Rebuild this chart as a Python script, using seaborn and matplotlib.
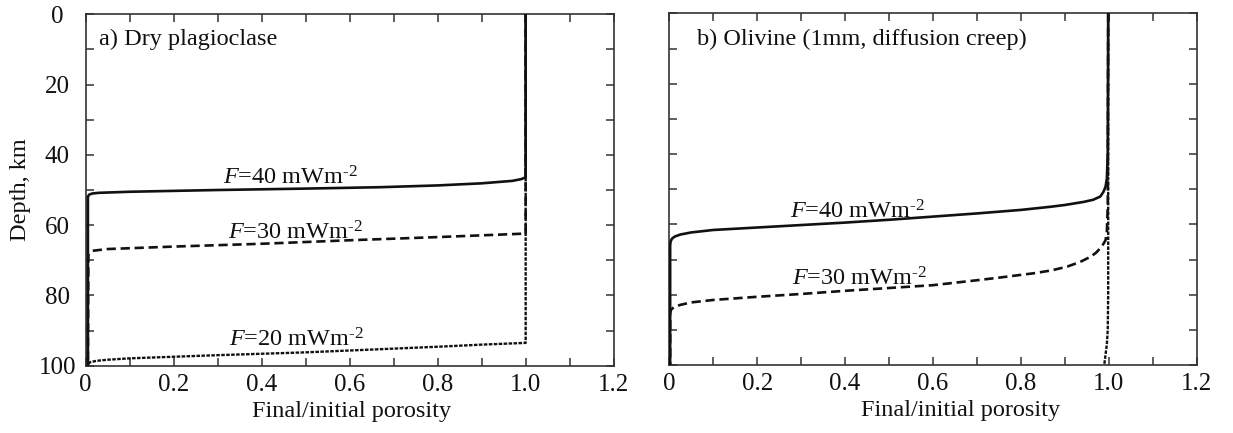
import matplotlib
matplotlib.use("Agg")
import matplotlib.pyplot as plt
import seaborn as sns
import pandas as pd
from matplotlib.ticker import MultipleLocator

# ---------------- data ----------------
# Panel a) Dry plagioclase
a40_x = [1.0, 1.0, 0.99, 0.97, 0.9, 0.8, 0.67, 0.5, 0.3, 0.1, 0.03, 0.015, 0.008, 0.005, 0.005]
a40_d = [0, 46.4, 46.9, 47.4, 48.1, 48.7, 49.2, 49.6, 50.0, 50.5, 50.8, 51.0, 51.3, 51.9, 100]
a30_x = [1.0, 1.0, 0.8, 0.6, 0.4, 0.2, 0.05, 0.015, 0.006, 0.005]
a30_d = [0, 62.4, 63.4, 64.3, 65.3, 66.1, 66.8, 67.3, 68.3, 100]
a20_x = [1.0, 1.0, 0.9, 0.8, 0.67, 0.5, 0.3, 0.1, 0.05, 0.025, 0.01, 0.004]
a20_d = [0, 93.5, 94.0, 94.6, 95.3, 96.2, 97.0, 97.9, 98.3, 98.6, 99.0, 99.8]

# Panel b) Olivine (1mm, diffusion creep)
b40_x = [0.999, 0.998, 0.996, 0.993, 0.988, 0.981, 0.965, 0.944, 0.9, 0.868, 0.8, 0.7,
         0.6, 0.5, 0.4, 0.3, 0.2, 0.1, 0.05, 0.025, 0.012, 0.006, 0.003, 0.002, 0.002]
b40_d = [0, 40, 47, 49.3, 50.8, 52.1, 53.0, 53.6, 54.5, 55.0, 55.9, 56.9,
         57.8, 58.7, 59.5, 60.2, 60.9, 61.6, 62.3, 62.9, 63.5, 64.1, 64.9, 66, 100]
b30_x = [0.999, 0.998, 0.996, 0.993, 0.988, 0.981, 0.971, 0.959, 0.935, 0.906, 0.87, 0.83,
         0.754, 0.7, 0.6, 0.5, 0.4, 0.3, 0.2, 0.1, 0.05, 0.025, 0.01, 0.004, 0.002, 0.002]
b30_d = [0, 55, 62, 64.5, 65.6, 66.8, 68.1, 69.2, 70.7, 72.0, 73.1, 73.9,
         75.1, 75.9, 77.3, 78.1, 78.9, 79.8, 80.6, 81.5, 82.2, 82.9, 83.6, 84.3, 85.2, 100]
b20_x = [0.999, 0.999, 0.998, 0.996, 0.993, 0.990]
b20_d = [0, 80, 90, 94, 97, 100]

x_ticks = [0, 0.2, 0.4, 0.6, 0.8, 1.0, 1.2]
x_labels = ["0", "0.2", "0.4", "0.6", "0.8", "1.0", "1.2"]
y_ticks = [0, 20, 40, 60, 80, 100]
y_labels = ["0", "20", "40", "60", "80", "100"]

panel_titles = ["a) Dry plagioclase", "b) Olivine (1mm, diffusion creep)"]
flux_labels = [r"$\mathit{F}$=40 mWm$^{\text{-}2}$",
               r"$\mathit{F}$=30 mWm$^{\text{-}2}$",
               r"$\mathit{F}$=20 mWm$^{\text{-}2}$"]

# ---------------- style ----------------
sns.set_theme(style="ticks")
plt.rcParams["font.family"] = ["Liberation Serif", "DejaVu Serif"]
plt.rcParams["mathtext.fontset"] = "custom"
plt.rcParams["mathtext.rm"] = "Liberation Serif"
plt.rcParams["mathtext.it"] = "Liberation Serif:italic"

FS = 17.5
TFS = 18
ink = "#111111"
spine_c = "#333333"

fig = plt.figure(figsize=(12.33, 4.33), dpi=100)
axA = fig.add_axes([0.0695, 0.1554, 0.4282, 0.8116])
axB = fig.add_axes([0.5428, 0.1570, 0.4276, 0.8122])

solid = dict(color=ink, lw=1.9, linestyle="-")
dashed = dict(color=ink, lw=1.9, dashes=(3.5, 1.8))
dotted = dict(color=ink, lw=1.7, dashes=(1.5, 0.6))


def draw(ax, xs, ds, style, z):
    df = pd.DataFrame({"x": xs, "d": ds})
    kw = dict(style)
    dash = kw.pop("dashes", None)
    ls = kw.pop("linestyle", "-")
    sns.lineplot(data=df, x="x", y="d", sort=False, estimator=None, ax=ax,
                 linestyle=ls, zorder=z, **kw)
    line = ax.get_lines()[-1]
    if dash is not None:
        line.set_dashes(dash)
    line.set_solid_capstyle("butt")
    line.set_solid_joinstyle("round")


draw(axA, a20_x, a20_d, dotted, 2)
draw(axA, a30_x, a30_d, dashed, 3)
draw(axA, a40_x, a40_d, solid, 4)

draw(axB, b20_x, b20_d, dotted, 2)
draw(axB, b30_x, b30_d, dashed, 3)
draw(axB, b40_x, b40_d, solid, 4)

for ax in [axA, axB]:
    ax.set_xlim(0, 1.2)
    ax.set_ylim(100, 0)
    ax.set_xticks(x_ticks)
    ax.set_xticklabels(x_labels, fontsize=TFS)
    ax.xaxis.set_minor_locator(MultipleLocator(0.1))
    ax.set_yticks(y_ticks)
    ax.yaxis.set_minor_locator(MultipleLocator(10))
    ax.tick_params(which="both", direction="in", top=True, right=True,
                   length=5.5, width=1.1, color=spine_c)
    ax.tick_params(axis="x", pad=6, colors=ink)
    ax.tick_params(axis="x", which="both", color=spine_c)
    for s in ax.spines.values():
        s.set_linewidth(1.2)
        s.set_color(spine_c)
    ax.set_xlabel("Final/initial porosity", fontsize=FS, color=ink)

# panel titles
axA.text(0.031, 8.8, panel_titles[0], fontsize=FS, color=ink, ha="left", va="baseline")
axB.text(0.062, 9.0, panel_titles[1], fontsize=FS, color=ink, ha="left", va="baseline")

axA.set_yticklabels(y_labels, fontsize=TFS)
for lbl in axA.get_yticklabels():
    lbl.set_horizontalalignment("center")
axA.tick_params(axis="y", pad=20.5, colors=ink)
axA.tick_params(axis="y", which="both", color=spine_c)
axA.set_ylabel("Depth, km", fontsize=FS, color=ink)
axA.yaxis.set_label_coords(-0.103, 0.5)
axB.set_yticklabels([])
axB.set_ylabel("")

axA.xaxis.set_label_coords(0.504, -0.1)
axB.xaxis.set_label_coords(0.552, -0.1)

# curve labels
axA.text(0.311, 48.3, flux_labels[0], fontsize=FS, color=ink, ha="left", va="baseline")
axA.text(0.324, 64.1, flux_labels[1], fontsize=FS, color=ink, ha="left", va="baseline")
axA.text(0.326, 94.6, flux_labels[2], fontsize=FS, color=ink, ha="left", va="baseline")
axB.text(0.275, 58.3, flux_labels[0], fontsize=FS, color=ink, ha="left", va="baseline")
axB.text(0.279, 77.5, flux_labels[1], fontsize=FS, color=ink, ha="left", va="baseline")

fig.savefig("out.png", dpi=100, facecolor="white")
